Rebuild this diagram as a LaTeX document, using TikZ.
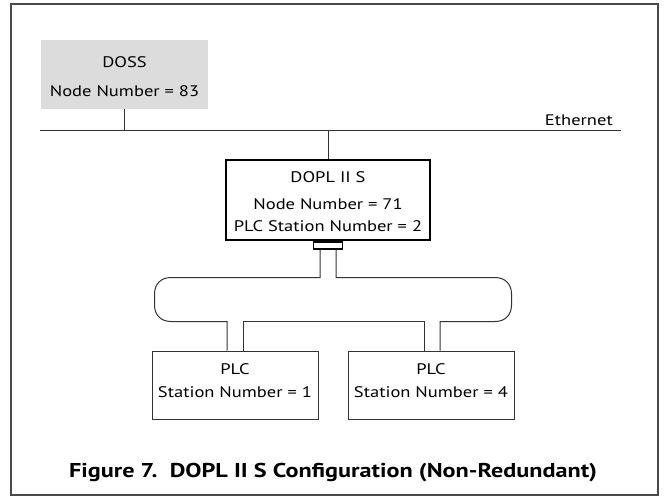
\documentclass[tikz,border=0pt]{standalone}
\usepackage{fontspec}
\setmainfont{PT Sans}[FakeStretch=1.21]
\definecolor{dossgray}{HTML}{DCDCDD}
\definecolor{linegray}{HTML}{333333}
\definecolor{framegray}{HTML}{4A4A4A}
\begin{document}
\begin{tikzpicture}[x=1pt,y=-1pt,
  txt/.style={font=\fontsize{15.3}{23}\selectfont, align=center, inner sep=0pt},
  thin/.style={draw=linegray, line width=1pt},
  dossbox/.style={fill=dossgray, minimum width=167pt, minimum height=69pt, inner sep=0pt},
  doplbox/.style={draw=black, line width=2.6pt, minimum width=204pt, minimum height=80pt, inner sep=0pt},
  connbox/.style={draw=black, line width=1.4pt, minimum width=29pt, minimum height=7pt, inner sep=0pt},
  plcbox/.style={thin, minimum width=166pt, minimum height=68pt, inner sep=0pt},
  caption/.style={font=\fontsize{20}{24}\selectfont\bfseries, inner sep=0pt}]
\useasboundingbox (0,0) rectangle (664,499);
\fill[white] (0,0) rectangle (664,499);
% frame
\draw[framegray, line width=2pt] (11,4) rectangle (658,495);
% DOSS
\node[dossbox] (doss) at (124.5,74.5) {};
\node[txt, anchor=base] (dossA) at (124.5,67) {DOSS};
\node[txt, anchor=base] (dossB) at (124.5,96) {Node Number = 83};
% Ethernet
\coordinate (ethL) at (40,130.5);
\coordinate (ethR) at (621,130.5);
\draw[thin] (ethL) -- (ethR);
\node[txt, anchor=base east] (ethlbl) at (613,125) {Ethernet};
\draw[thin] (doss.south) -- (doss.south |- ethL);
% DOPL
\node[doplbox] (dopl) at (328,200) {};
\node[txt, anchor=base] (doplA) at (328,182) {DOPL II S};
\node[txt, anchor=base] (doplB) at (328,209) {Node Number = 71};
\node[txt, anchor=base] (doplC) at (328,231) {PLC Station Number = 2};
\draw[thin] (dopl.north) -- (dopl.north |- ethL);
\node[connbox, anchor=north] (conn) at (dopl.south) {};
% PLC boxes
\node[plcbox] (plc1) at (235,385) {};
\node[txt, anchor=base] (plc1A) at (235,374) {PLC};
\node[txt, anchor=base] (plc1B) at (235,397) {Station Number = 1};
\node[plcbox] (plc2) at (431,385) {};
\node[txt, anchor=base] (plc2A) at (431,374) {PLC};
\node[txt, anchor=base] (plc2B) at (431,397) {Station Number = 4};
% bus
\coordinate (cL) at ([xshift=-8pt]conn.south);
\coordinate (cR) at ([xshift=8pt]conn.south);
\coordinate (p1L) at ([xshift=-8pt]plc1.north);
\coordinate (p1R) at ([xshift=8pt]plc1.north);
\coordinate (p2L) at ([xshift=-7pt]plc2.north);
\coordinate (p2R) at ([xshift=9pt]plc2.north);
\draw[thin] (cL) -- (cL |- 0,277.5) -- (171,277.5)
  .. controls (161,277.5) and (154.5,284) .. (154.5,294) -- (154.5,305)
  .. controls (154.5,315) and (161,321.5) .. (171,321.5)
  -- (p1L |- 0,321.5) -- (p1L);
\draw[thin] (p1R) -- (p1R |- 0,321.5) -- (p2L |- 0,321.5) -- (p2L);
\draw[thin] (cR) -- (cR |- 0,277.5) -- (495,277.5)
  .. controls (505,277.5) and (511.5,284) .. (511.5,294) -- (511.5,305)
  .. controls (511.5,315) and (505,321.5) .. (495,321.5)
  -- (p2R |- 0,321.5) -- (p2R);
% caption
\node[caption, anchor=base] (cap) at (333,477) {Figure 7.\ \ DOPL II S Configuration (Non-Redundant)};
\end{tikzpicture}
\end{document}
